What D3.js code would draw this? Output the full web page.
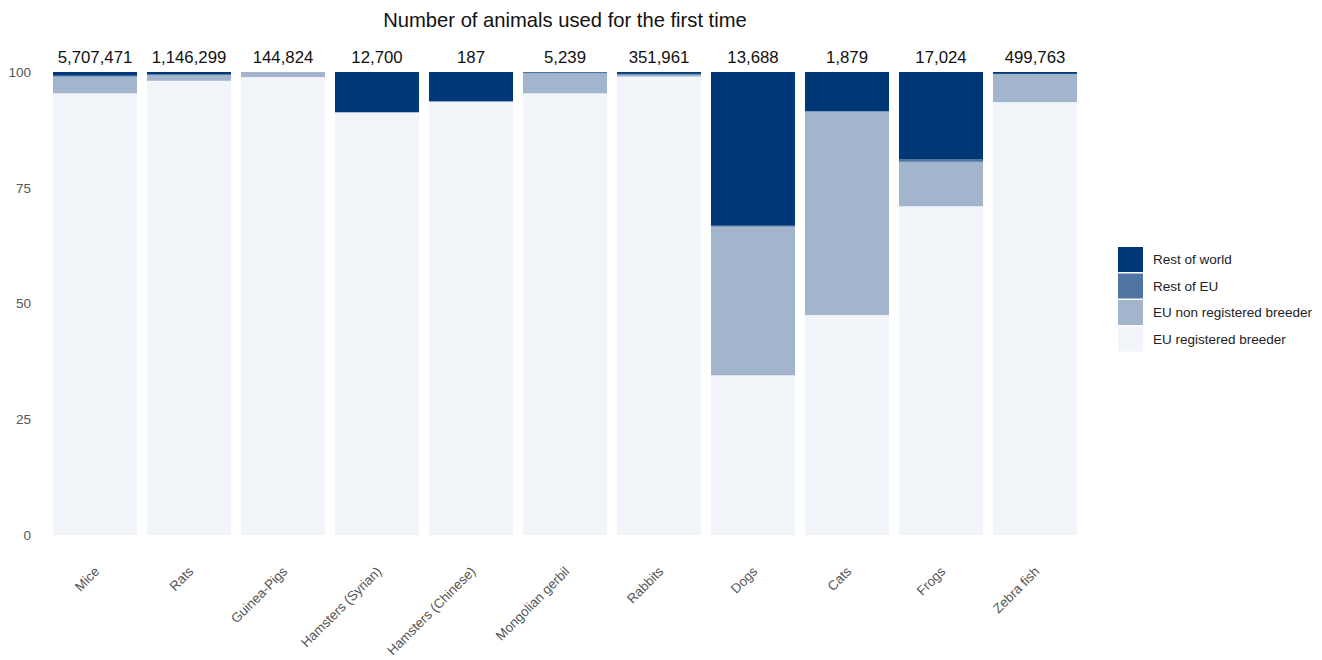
<!DOCTYPE html>
<html><head><meta charset="utf-8">
<script src="https://cdn.jsdelivr.net/npm/d3@7"></script>
<style>
body{margin:0;background:#fff;}
svg{font-family:"Liberation Sans",Arial,sans-serif;}
</style></head>
<body><svg id="c" width="1322" height="660"></svg>
<script>
const categories = ["Mice","Rats","Guinea-Pigs","Hamsters (Syrian)","Hamsters (Chinese)","Mongolian gerbil","Rabbits","Dogs","Cats","Frogs","Zebra fish"];
const totals = ["5,707,471","1,146,299","144,824","12,700","187","5,239","351,961","13,688","1,879","17,024","499,763"];
const seriesNames = ["EU registered breeder","EU non registered breeder","Rest of EU","Rest of world"];
const euRegistered   = [95.4, 98.1, 98.9, 91.3, 93.65, 95.4, 99.0, 34.5, 47.5, 71.0, 93.5];
const euNonRegistered= [3.6, 1.2, 1.1, 0.0, 0.0, 4.3, 0.4, 32.1, 44.0, 9.6, 6.0];
const restOfEU       = [0.2, 0.2, 0.0, 0.0, 0.0, 0.3, 0.2, 0.2, 0.0, 0.5, 0.1];
const restOfWorld    = [0.8, 0.5, 0.0, 8.7, 6.35, 0.0, 0.4, 33.2, 8.5, 18.9, 0.4];
const yTicks = [0,25,50,75,100];
const colors = ["#f1f4f9","#a2b5cd","#4f75a2","#003776"];

const rows = categories.map((c,i)=>({cat:c, s0:euRegistered[i], s1:euNonRegistered[i], s2:restOfEU[i], s3:restOfWorld[i]}));
const stack = d3.stack().keys(["s0","s1","s2","s3"])(rows);

const svg = d3.select("#c");
const x = d3.scaleBand().domain(categories).range([48,1082]).paddingInner(0.106).paddingOuter(0.053);
const y = d3.scaleLinear().domain([0,100]).range([535,72]);

svg.append("text").attr("x",565).attr("y",27).attr("text-anchor","middle")
  .attr("font-size",20.2).attr("fill","#111").text("Number of animals used for the first time");

const g = svg.append("g");
stack.forEach((layer,li)=>{
  g.selectAll(null).data(layer).enter().append("rect")
    .attr("x",d=>x(d.data.cat)).attr("width",x.bandwidth())
    .attr("y",d=>y(d[1])).attr("height",d=>Math.max(0,y(d[0])-y(d[1])))
    .attr("fill",colors[li]);
});

// totals
svg.selectAll(null).data(categories).enter().append("text")
  .attr("x",d=>x(d)+x.bandwidth()/2).attr("y",63).attr("text-anchor","middle")
  .attr("font-size",16.8).attr("fill","#111").text((d,i)=>totals[i]);

// y axis
const ya = svg.append("g").attr("transform","translate(40,0)")
  .call(d3.axisLeft(y).tickValues(yTicks).tickSize(0).tickPadding(0));
ya.select(".domain").remove();
ya.selectAll("text").attr("font-size",13.5).attr("fill","#555").attr("font-family","Liberation Sans, Arial, sans-serif").attr("x",-9);

// x axis
const xa = svg.append("g").attr("transform","translate(0,548)")
  .call(d3.axisBottom(x).tickSize(0).tickPadding(0));
xa.select(".domain").remove();
xa.selectAll("text").attr("font-size",13.3).attr("fill","#555")
  .attr("font-family","Liberation Sans, Arial, sans-serif")
  .attr("text-anchor","end").attr("dy","0.35em")
  .attr("transform","translate(2,21) rotate(-45)");

// legend
const legendOrder = [3,2,1,0];
const lg = svg.append("g").attr("transform","translate(1118,247)");
legendOrder.forEach((si,k)=>{
  lg.append("rect").attr("x",0).attr("y",k*26.5).attr("width",25).attr("height",25).attr("fill",colors[si]);
  lg.append("text").attr("x",35).attr("y",k*26.5+12.5).attr("dy","0.35em")
    .attr("font-size",13.5).attr("fill","#222").text(seriesNames[si]);
});
</script></body></html>
